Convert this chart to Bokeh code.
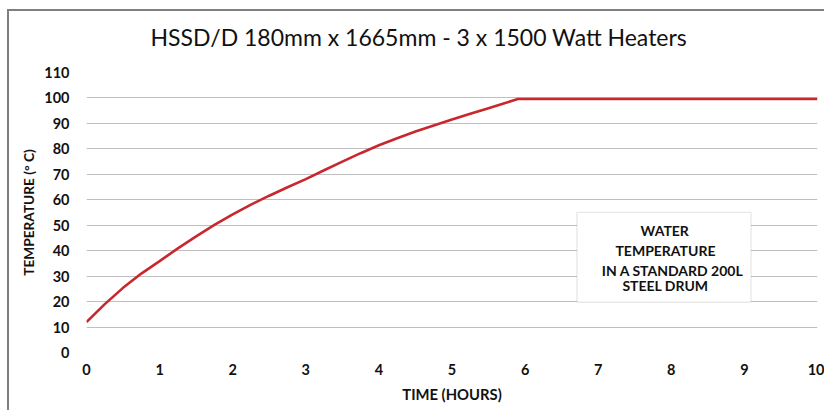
from bokeh.plotting import figure
from bokeh.models import Range1d, FixedTicker, BoxAnnotation, Label
from bokeh.embed import file_html
from bokeh.resources import INLINE

# Data
time_hours = [0, 0.25, 0.5, 0.75, 1, 1.25, 1.5, 1.75, 2, 2.25, 2.5, 2.75, 3, 3.25, 3.5,
              3.75, 4, 4.25, 4.5, 4.75, 5, 5.25, 5.5, 5.75, 5.9, 6, 7, 8, 9, 10]
temperature_c = [12, 19.0, 25.4, 31.0, 35.9, 40.9, 45.6, 50.1, 54.3, 58.1, 61.6, 64.9, 68.1,
                 71.6, 75.0, 78.3, 81.4, 84.2, 86.8, 89.2, 91.5, 93.8, 96.0, 98.2, 99.6,
                 99.6, 99.6, 99.6, 99.6, 99.6]
x_ticks = [0, 1, 2, 3, 4, 5, 6, 7, 8, 9, 10]
y_ticks = [0, 10, 20, 30, 40, 50, 60, 70, 80, 90, 100, 110]

TITLE = "HSSD/D 180mm x 1665mm - 3 x 1500 Watt Heaters"
FONT = "Lato"
FRAME_LINE = "linear-gradient(#7f7f7f, #7f7f7f)"

p = figure(width=817, height=410, output_backend="svg", toolbar_location=None,
           x_range=Range1d(0, 10), y_range=Range1d(0, 110),
           min_border_left=79, min_border_right=7, min_border_top=72, min_border_bottom=58)
# outer chart-area frame (top and left edges) drawn as host background lines
p.styles = {
    "margin-left": "7px",
    "background": (f"{FRAME_LINE} 0px 9px / 100% 2px no-repeat, "
                   f"{FRAME_LINE} 0px 9px / 2px 100% no-repeat, #ffffff"),
}
p.outline_line_color = None
p.background_fill_color = "white"
p.border_fill_alpha = 0.0

p.title.text = TITLE
p.title.align = "left"
p.title.offset = 64
p.title.vertical_align = "middle"
p.title.text_font = FONT
p.title.text_font_style = "normal"
p.title.text_font_size = "23px"
p.title.text_color = "#111111"
p.title.standoff = 42

p.line(time_hours, temperature_c, line_color="#c8282d", line_width=2.6)

for ax in (p.xaxis, p.yaxis):
    ax.axis_line_color = None
    ax.major_tick_line_color = None
    ax.minor_tick_line_color = None
    ax.major_label_text_font = FONT
    ax.major_label_text_font_style = "bold"
    ax.major_label_text_font_size = "14.5px"
    ax.major_label_text_color = "#111111"
    ax.axis_label_text_font = FONT
    ax.axis_label_text_font_style = "bold"
    ax.axis_label_text_color = "#111111"

p.xaxis.axis_label_text_font_size = "14.8px"
p.yaxis.axis_label_text_font_size = "13.7px"
p.xaxis.ticker = FixedTicker(ticks=x_ticks)
p.yaxis.ticker = FixedTicker(ticks=y_ticks)
p.xaxis.major_label_standoff = 5
p.yaxis.major_label_standoff = 11
p.xaxis.axis_label = "TIME (HOURS)"
p.yaxis.axis_label = "TEMPERATURE (° C)"
p.xaxis.axis_label_standoff = 7
p.yaxis.axis_label_standoff = 4

p.xgrid.grid_line_color = None
p.ygrid.grid_line_color = "#bfbfbf"
p.ygrid.grid_line_width = 1.2

box = BoxAnnotation(left=6.71, right=9.09, bottom=19.8, top=55.1,
                    fill_color="white", fill_alpha=1.0,
                    line_color="#a6a6a6", line_width=1.2)
p.add_layout(box)

note_lines = [("WATER", 7.91, 47.9), ("TEMPERATURE", 7.92, 40.1),
              ("IN A STANDARD 200L", 8.02, 32.2), ("STEEL DRUM", 7.92, 26.2)]
for txt, lx, ly in note_lines:
    p.add_layout(Label(x=lx, y=ly, text=txt, text_align="center", text_baseline="middle",
                       text_font=FONT, text_font_style="bold", text_font_size="14px",
                       text_color="#111111"))

open("out.html", "w").write(file_html(p, INLINE))
